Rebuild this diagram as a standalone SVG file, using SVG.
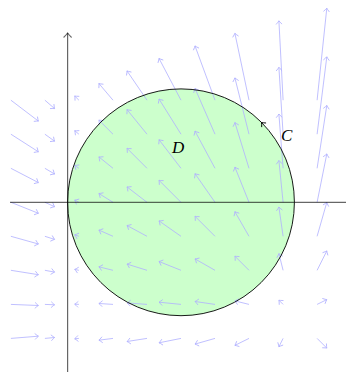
<svg xmlns="http://www.w3.org/2000/svg" width="346" height="377" viewBox="0 0 346 377">
<style>
.v{stroke:#b0b0ff;stroke-width:0.8;fill:none;marker-end:url(#vh)}
.ax{stroke:#000;stroke-opacity:0.6;stroke-width:1.2;fill:none}
.lbl{font-family:"Liberation Serif",serif;font-style:italic;font-size:17px;fill:#000}
</style>
<defs>
<marker id="vh" markerUnits="userSpaceOnUse" markerWidth="10" markerHeight="10" viewBox="-5 -5 10 10" refX="0" refY="0" orient="auto">
<path d="M -3.5 -3 Q -1 -0.6 0 0 Q -1 0.6 -3.5 3" stroke="#b0b0ff" stroke-width="0.8" fill="none"/>
</marker>
<marker id="axh" markerUnits="userSpaceOnUse" markerWidth="12" markerHeight="12" viewBox="-6 -6 12 12" refX="0" refY="0" orient="auto">
<path d="M -4.5 -4 Q -1.3 -0.8 0 0 Q -1.3 0.8 -4.5 4" stroke="#000" stroke-opacity="0.6" stroke-width="1.1" fill="none"/>
</marker>
</defs>
<g id="region-D">
<circle cx="181" cy="202.3" r="113.4" fill="#ccffcc" stroke="none"/>
</g>
<g id="field">
<line class="v" x1="10.9" y1="338.4" x2="38.4" y2="336.2"/>
<line class="v" x1="44.9" y1="338.4" x2="54.6" y2="337.5"/>
<line class="v" x1="78.9" y1="338.4" x2="74.7" y2="338.8"/>
<line class="v" x1="113" y1="338.4" x2="98.9" y2="340.2"/>
<line class="v" x1="147" y1="338.4" x2="127" y2="341.5"/>
<line class="v" x1="181" y1="338.4" x2="159" y2="342.8"/>
<line class="v" x1="215" y1="338.4" x2="195" y2="344.1"/>
<line class="v" x1="249" y1="338.4" x2="234.9" y2="345.4"/>
<line class="v" x1="283.1" y1="338.4" x2="278.9" y2="346.8"/>
<line class="v" x1="317.1" y1="338.4" x2="326.8" y2="348.1"/>

<line class="v" x1="10.9" y1="304.4" x2="38.4" y2="305.5"/>
<line class="v" x1="44.9" y1="304.4" x2="54.6" y2="304.8"/>
<line class="v" x1="78.9" y1="304.4" x2="74.7" y2="304.2"/>
<line class="v" x1="113" y1="304.4" x2="98.9" y2="303.5"/>
<line class="v" x1="147" y1="304.4" x2="127" y2="302.9"/>
<line class="v" x1="181" y1="304.4" x2="159" y2="302.2"/>
<line class="v" x1="215" y1="304.4" x2="195" y2="301.5"/>
<line class="v" x1="249" y1="304.4" x2="234.9" y2="300.9"/>
<line class="v" x1="283.1" y1="304.4" x2="278.9" y2="300.2"/>
<line class="v" x1="317.1" y1="304.4" x2="326.8" y2="299.6"/>

<line class="v" x1="10.9" y1="270.3" x2="38.4" y2="274.7"/>
<line class="v" x1="44.9" y1="270.3" x2="54.6" y2="272.1"/>
<line class="v" x1="78.9" y1="270.3" x2="74.7" y2="269.4"/>
<line class="v" x1="113" y1="270.3" x2="98.9" y2="266.8"/>
<line class="v" x1="147" y1="270.3" x2="127" y2="264.1"/>
<line class="v" x1="181" y1="270.3" x2="159" y2="261.5"/>
<line class="v" x1="215" y1="270.3" x2="195" y2="258.9"/>
<line class="v" x1="249" y1="270.3" x2="234.9" y2="256.2"/>
<line class="v" x1="283.1" y1="270.3" x2="278.9" y2="253.6"/>
<line class="v" x1="317.1" y1="270.3" x2="326.8" y2="250.9"/>

<line class="v" x1="10.9" y1="236.3" x2="38.4" y2="244"/>
<line class="v" x1="44.9" y1="236.3" x2="54.6" y2="239.4"/>
<line class="v" x1="78.9" y1="236.3" x2="74.7" y2="234.8"/>
<line class="v" x1="113" y1="236.3" x2="98.9" y2="230.1"/>
<line class="v" x1="147" y1="236.3" x2="127" y2="225.5"/>
<line class="v" x1="181" y1="236.3" x2="159" y2="220.9"/>
<line class="v" x1="215" y1="236.3" x2="195" y2="216.3"/>
<line class="v" x1="249" y1="236.3" x2="234.9" y2="211.7"/>
<line class="v" x1="283.1" y1="236.3" x2="278.9" y2="207"/>
<line class="v" x1="317.1" y1="236.3" x2="326.8" y2="202.4"/>

<line class="v" x1="10.9" y1="202.3" x2="38.4" y2="213.3"/>
<line class="v" x1="44.9" y1="202.3" x2="54.6" y2="206.7"/>
<line class="v" x1="78.9" y1="202.3" x2="74.7" y2="200.1"/>
<line class="v" x1="113" y1="202.3" x2="98.9" y2="193.5"/>
<line class="v" x1="147" y1="202.3" x2="127" y2="186.9"/>
<line class="v" x1="181" y1="202.3" x2="159" y2="180.3"/>
<line class="v" x1="215" y1="202.3" x2="195" y2="173.7"/>
<line class="v" x1="249" y1="202.3" x2="234.9" y2="167.1"/>
<line class="v" x1="283.1" y1="202.3" x2="278.9" y2="160.5"/>
<line class="v" x1="317.1" y1="202.3" x2="326.8" y2="153.9"/>

<line class="v" x1="10.9" y1="168.3" x2="38.4" y2="182.6"/>
<line class="v" x1="44.9" y1="168.3" x2="54.6" y2="174"/>
<line class="v" x1="78.9" y1="168.3" x2="74.7" y2="165.4"/>
<line class="v" x1="113" y1="168.3" x2="98.9" y2="156.9"/>
<line class="v" x1="147" y1="168.3" x2="127" y2="148.3"/>
<line class="v" x1="181" y1="168.3" x2="159" y2="139.7"/>
<line class="v" x1="215" y1="168.3" x2="195" y2="131.1"/>
<line class="v" x1="249" y1="168.3" x2="234.9" y2="122.5"/>
<line class="v" x1="283.1" y1="168.3" x2="278.9" y2="114"/>
<line class="v" x1="317.1" y1="168.3" x2="326.8" y2="105.4"/>

<line class="v" x1="10.9" y1="134.2" x2="38.4" y2="151.8"/>
<line class="v" x1="44.9" y1="134.2" x2="54.6" y2="141.2"/>
<line class="v" x1="78.9" y1="134.2" x2="74.7" y2="130.7"/>
<line class="v" x1="113" y1="134.2" x2="98.9" y2="120.1"/>
<line class="v" x1="147" y1="134.2" x2="127" y2="109.6"/>
<line class="v" x1="181" y1="134.2" x2="159" y2="99"/>
<line class="v" x1="215" y1="134.2" x2="195" y2="88.4"/>
<line class="v" x1="249" y1="134.2" x2="234.9" y2="77.9"/>
<line class="v" x1="283.1" y1="134.2" x2="278.9" y2="67.3"/>
<line class="v" x1="317.1" y1="134.2" x2="326.8" y2="56.8"/>

<line class="v" x1="10.9" y1="100.2" x2="38.4" y2="121.1"/>
<line class="v" x1="44.9" y1="100.2" x2="54.6" y2="108.6"/>
<line class="v" x1="78.9" y1="100.2" x2="74.7" y2="96"/>
<line class="v" x1="113" y1="100.2" x2="98.9" y2="83.5"/>
<line class="v" x1="147" y1="100.2" x2="127" y2="70.9"/>
<line class="v" x1="181" y1="100.2" x2="159" y2="58.4"/>
<line class="v" x1="215" y1="100.2" x2="195" y2="45.9"/>
<line class="v" x1="249" y1="100.2" x2="234.9" y2="33.3"/>
<line class="v" x1="283.1" y1="100.2" x2="278.9" y2="20.8"/>
<line class="v" x1="317.1" y1="100.2" x2="326.8" y2="8.2"/>
</g>
<g id="axes">
<line class="ax" x1="10" y1="202.3" x2="346" y2="202.3"/>
<line class="ax" x1="67.6" y1="372" x2="67.6" y2="33" marker-end="url(#axh)"/>
</g>
<g id="curve-C">
<circle cx="181" cy="202.3" r="113.4" fill="none" stroke="#000" stroke-width="0.9"/>
<path d="M -3.5 -3 Q -1 -0.6 0 0 Q -1 0.6 -3.5 3" transform="translate(261.5,122.5) rotate(-133)" stroke="#000" stroke-width="0.9" fill="none"/>
</g>
<g id="labels">
<text class="lbl" x="172" y="153">D</text>
<text class="lbl" x="281" y="141">C</text>
</g>
</svg>
